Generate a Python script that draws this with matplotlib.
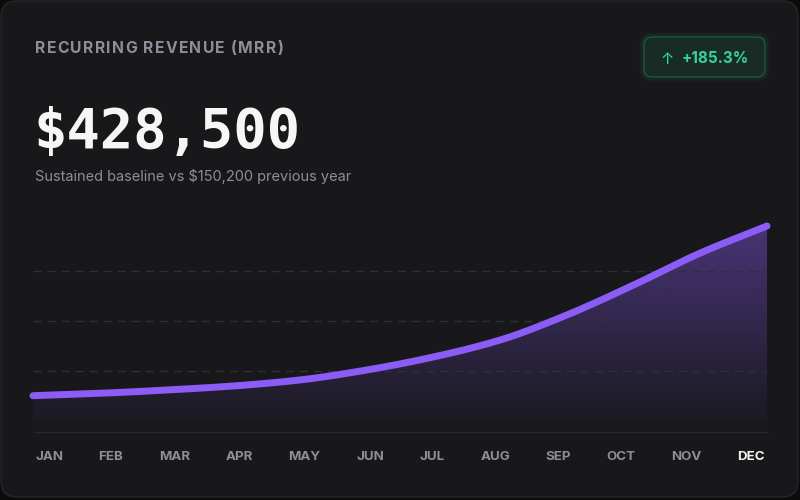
import numpy as np
import matplotlib.pyplot as plt
from matplotlib.patches import FancyBboxPatch

plt.rcParams['lines.scale_dashes'] = False

months = ["JAN", "FEB", "MAR", "APR", "MAY", "JUN",
          "JUL", "AUG", "SEP", "OCT", "NOV", "DEC"]
mrr = [150200, 154100, 159500, 166100, 176000, 192300,
       213700, 241500, 282500, 331700, 384200, 428500]
headline = "$428,500"
title = "RECURRING REVENUE (MRR)"
subtitle = "Sustained baseline vs $150,200 previous year"
change = "+185.3%"

# chart scale (value at bottom / top of the drawing area)
scale_lo, scale_hi = 108700, 436700

violet = "#8b5cf6"
green = "#34d399"
grey = "#8e8e98"
sans = ["Inter", "DejaVu Sans"]


def monotone(x, y, n=400):
    # monotone cubic (Fritsch-Carlson), same look as d3 curveMonotoneX
    x = np.asarray(x, float)
    y = np.asarray(y, float)
    h = np.diff(x)
    d = np.diff(y) / h
    m = np.zeros_like(y)
    m[0], m[-1] = d[0], d[-1]
    for i in range(1, len(y) - 1):
        if d[i - 1] * d[i] > 0:
            w1 = 2 * h[i] + h[i - 1]
            w2 = h[i] + 2 * h[i - 1]
            m[i] = (w1 + w2) / (w1 / d[i - 1] + w2 / d[i])
    xs = np.linspace(x[0], x[-1], n)
    k = np.clip(np.searchsorted(x, xs) - 1, 0, len(x) - 2)
    t = (xs - x[k]) / h[k]
    h00 = 2 * t**3 - 3 * t**2 + 1
    h10 = t**3 - 2 * t**2 + t
    h01 = -2 * t**3 + 3 * t**2
    h11 = t**3 - t**2
    ys = h00 * y[k] + h10 * h[k] * m[k] + h01 * y[k + 1] + h11 * h[k] * m[k + 1]
    return xs, ys


fig = plt.figure(figsize=(8, 5), dpi=100)
fig.patch.set_facecolor("#0b0b0c")

# background axes in pixel units (y downwards)
bg = fig.add_axes([0, 0, 1, 1])
bg.set_xlim(0, 800)
bg.set_ylim(500, 0)
bg.axis("off")

card = FancyBboxPatch((1, 1), 797, 496, boxstyle="round,pad=0,rounding_size=16",
                      fc="#18181b", ec="#27272b", lw=1)
bg.add_patch(card)

renderer = fig.canvas.get_renderer()


def text_width(s, **kw):
    t = bg.text(0, 0, s, **kw)
    w = t.get_window_extent(renderer).width
    t.remove()
    return w


def spaced_text(x, y, s, track, **kw):
    # draw a string char by char with extra letter spacing (px)
    bar = text_width("|", **kw)
    for i, ch in enumerate(s):
        if ch != " ":
            adv = text_width(s[:i] + "|", **kw) - bar if i else 0
            bg.text(x + adv + i * track, y, ch, ha="left", va="baseline", **kw)


spaced_text(35, 53, title, 1.3, fontsize=11.3, color=grey,
            fontweight="bold", family=sans)

bg.text(34, 148, headline, ha="left", va="baseline", fontsize=40,
        color="#f6f6f7", fontweight="bold", family="DejaVu Sans Mono")

bg.text(35, 181.5, subtitle, ha="left", va="baseline", fontsize=10.5,
        color=grey, family=sans)

# change badge
for pad, a in [(3, 0.04), (1.5, 0.06)]:
    bg.add_patch(FancyBboxPatch((644 - pad, 37 - pad), 121 + 2 * pad, 40 + 2 * pad,
                                boxstyle="round,pad=0,rounding_size=%g" % (8 + pad),
                                fc="none", ec=green, lw=2, alpha=a))
bg.add_patch(FancyBboxPatch((644, 37), 121, 40, boxstyle="round,pad=0,rounding_size=8",
                            fc="#192b25", ec="#1d5441", lw=1.1))
bg.text(667, 63.5, "\u2191", ha="center", va="baseline", fontsize=11.5,
        color=green, family=sans)
bg.text(682, 63, change, ha="left", va="baseline", fontsize=11,
        color=green, fontweight="bold", family=sans)

# x axis baseline
bg.plot([34, 767], [432, 432], color="#27282c", lw=1)

# month labels laid out with equal gaps, from 35 to 765
lab_kw = dict(fontsize=9.6, fontweight="bold", family=sans)
widths = [text_width(m, **lab_kw) for m in months]
gap = (765 - 35 - sum(widths)) / (len(months) - 1)
x = 35
for i, m in enumerate(months):
    col = "#f4f4f5" if i == len(months) - 1 else grey
    bg.text(x, 459.5, m, ha="left", va="baseline", color=col, **lab_kw)
    x += widths[i] + gap

# chart
span = scale_hi - scale_lo
ax = fig.add_axes([33 / 800, 1 - 432 / 500, 734 / 800, 221 / 500])
ax.set_xlim(0, len(mrr) - 1)
ax.set_ylim(scale_lo - 11 / 200 * span, scale_hi + 10 / 200 * span)
ax.axis("off")
ax.patch.set_alpha(0)

xs, ys = monotone(np.arange(len(mrr)), mrr)

# gradient fill under the line
grad = np.zeros((256, 1, 4))
grad[..., :3] = np.array([139, 92, 246]) / 255
grad[:, 0, 3] = np.linspace(0.42, 0.03, 256)
im = ax.imshow(grad, extent=[0, len(mrr) - 1, scale_lo, max(mrr)],
               aspect="auto", origin="upper", zorder=1, interpolation="bilinear")
area = ax.fill_between(xs, ys, scale_lo, color="none", lw=0)
im.set_clip_path(area.get_paths()[0], transform=ax.transData)

for k in (1, 2, 3):
    v = scale_lo + k * span / 4
    ax.plot([0, len(mrr) - 1], [v, v], color="#2f3036", lw=1,
            linestyle=(0, (5.8, 4.3)), zorder=2)

ax.plot(xs, ys, color=violet, lw=5, solid_capstyle="round", zorder=3,
        clip_on=False)

fig.savefig("out.png", dpi=100, facecolor=fig.get_facecolor())
